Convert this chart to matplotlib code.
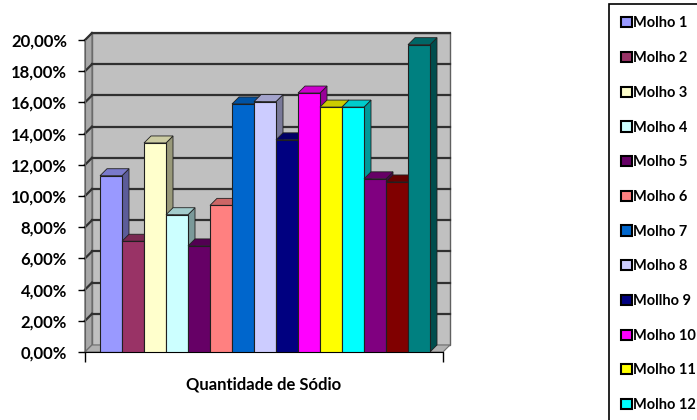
import numpy as np
import matplotlib.pyplot as plt
from matplotlib.patches import Polygon, Patch
from matplotlib.transforms import IdentityTransform
from matplotlib.colors import to_rgb

plt.rcParams['font.family'] = ['Lato', 'DejaVu Sans']
plt.rcParams['font.weight'] = 'bold'

# Dados
rotulos = ['Molho 1', 'Molho 2', 'Molho 3', 'Molho 4', 'Molho 5', 'Molho 6',
           'Molho 7', 'Molho 8', 'Mollho 9', 'Molho 10', 'Molho 11', 'Molho 12',
           'Molho 13', 'Molho 14', 'Molho 15']
valores = [11.3, 7.1, 13.4, 8.8, 6.8, 9.4, 15.9, 16.05, 13.6, 16.6, 15.7, 15.7,
           11.1, 10.9, 19.7]
cores = ['#9999FF', '#993366', '#FFFFCC', '#CCFFFF', '#660066', '#FF8080',
         '#0066CC', '#CCCCFF', '#000080', '#FF00FF', '#FFFF00', '#00FFFF',
         '#800080', '#800000', '#008080']
yticks = np.arange(0, 21, 2)

W, H = 697, 420
fig = plt.figure(figsize=(W / 100, H / 100), dpi=100)
ax = fig.add_axes([85 / W, 68 / H, 358 / W, 312 / H])
ax.set_facecolor('none')
ax.autoscale(False)
xl, xr = -15 / 22, len(valores) + 13 / 22
ax.set_xlim(xl, xr)
ax.set_ylim(0, 20)

# deslocamento da profundidade (pixels)
DX, DY = 7, 7


def px(x, y, dx=0, dy=0):
    p = ax.transData.transform((x, y))
    return (p[0] + dx, p[1] + dy)


def poli(pts, fc, ec='none', lw=0.8, z=1):
    ax.add_patch(Polygon(pts, closed=True, facecolor=fc, edgecolor=ec, linewidth=lw,
                         transform=IdentityTransform(), clip_on=False, zorder=z))


def escurece(c, f):
    return tuple(np.array(to_rgb(c)) * f)


# parede do fundo
poli([px(xl, 0, DX, DY), px(xr, 0, DX, DY), px(xr, 20, DX, DY), px(xl, 20, DX, DY)],
     '#C0C0C0', '#606060', 1.0, z=0.5)
# parede da esquerda
poli([px(xl, 0), px(xl, 0, DX, DY), px(xl, 20, DX, DY), px(xl, 20)],
     '#A8A8A8', '#707070', 1.0, z=0.6)
# piso
poli([px(xl, 0), px(xr, 0), px(xr, 0, DX, DY), px(xl, 0, DX, DY)],
     '#B0B0B0', '#707070', 0.8, z=0.6)

# linhas de grade
for v in yticks[1:]:
    a = px(xl, v, DX, DY)
    b = px(xr, v, DX, DY)
    c = px(xl, v)
    ax.plot([a[0], b[0]], [a[1], b[1]], color='#303030', lw=1.6,
            transform=IdentityTransform(), clip_on=False, zorder=0.7)
    ax.plot([c[0], a[0]], [c[1], a[1]], color='#303030', lw=1.6,
            transform=IdentityTransform(), clip_on=False, zorder=0.7)

# barras 3D
for i, (v, c) in enumerate(zip(valores, cores)):
    z = 2 + i
    x0, x1 = i, i + 1
    poli([px(x1, 0), px(x1, 0, DX, DY), px(x1, v, DX, DY), px(x1, v)],
         escurece(c, 0.6), '#202020', 0.6, z)
    poli([px(x0, v), px(x1, v), px(x1, v, DX, DY), px(x0, v, DX, DY)],
         escurece(c, 0.8), '#202020', 0.6, z)
    ax.bar(x0, v, width=1, align='edge', color=c, edgecolor='#202020',
           linewidth=0.8, zorder=z + 0.5)

# eixos
for s in ['top', 'right']:
    ax.spines[s].set_visible(False)
ax.spines['left'].set_color('#606060')
ax.spines['bottom'].set_color('black')
ax.set_yticks(yticks)
ax.set_yticklabels([f'{v:.2f}%'.replace('.', ',') for v in yticks])
ax.set_xticks([xl, xr])
ax.set_xticklabels(['', ''])
ax.tick_params(axis='y', length=5, width=1, pad=8, labelsize=12)
ax.tick_params(axis='x', length=7, width=1)
ax.set_xlabel('Quantidade de Sódio', fontsize=12, fontweight='bold', labelpad=7)

# legenda
alcas = [Patch(facecolor=c, edgecolor='black', linewidth=1.5) for c in cores]
leg = fig.legend(alcas, rotulos, loc='upper left',
                 bbox_to_anchor=(609 / W, 1 - 4 / H), fontsize=10.5,
                 handlelength=0.7, handleheight=0.7, handletextpad=0.12,
                 labelspacing=1.42, borderpad=0.85, borderaxespad=0,
                 fancybox=False, edgecolor='black', framealpha=1)
leg.get_frame().set_linewidth(1.2)

fig.savefig('out.png', dpi=100)
plt.close()
